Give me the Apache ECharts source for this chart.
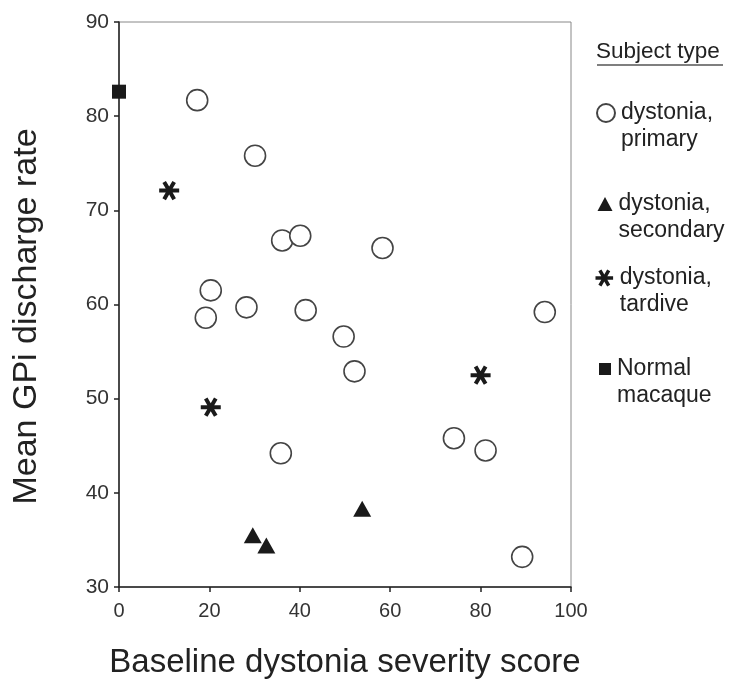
<!DOCTYPE html>
<html>
<head>
<meta charset="utf-8">
<script src="https://cdn.jsdelivr.net/npm/echarts@6/dist/echarts.min.js"></script>
<style>
html,body{margin:0;padding:0;background:#fff;}
#chart{width:733px;height:687px;}
</style>
</head>
<body>
<div id="chart"></div>
<script>
// 数据
var primaryX = [17.3, 30.1, 36.1, 40.1, 20.3, 19.2, 28.2, 41.3, 49.7, 52.1, 35.8, 58.3, 94.2, 74.1, 81.1, 89.2];
var primaryY = [81.7, 75.8, 66.8, 67.3, 61.5, 58.6, 59.7, 59.4, 56.6, 52.9, 44.2, 66.0, 59.2, 45.8, 44.5, 33.2];
var secondaryX = [29.6, 32.6, 53.8];
var secondaryY = [35.5, 34.4, 38.3];
var tardiveX = [11.1, 20.3, 80.0];
var tardiveY = [72.1, 49.1, 52.5];
var normalX = [0];
var normalY = [82.6];
var seriesNames = ['dystonia,\nprimary', 'dystonia,\nsecondary', 'dystonia,\ntardive', 'Normal\nmacaque'];
var xTicks = [0, 20, 40, 60, 80, 100];
var yTicks = [30, 40, 50, 60, 70, 80, 90];

function pairs(xs, ys){
	return xs.map(function(x, i){ return [x, ys[i]]; });
}

// 星号符号 (6 arms)
function starPath(){
	var R = 1, w = 0.2, pts = [];
	for (var k = 0; k < 6; k++) {
		var a = k * Math.PI / 3;
		var ux = Math.cos(a), uy = Math.sin(a), nx = -uy, ny = ux;
		pts.push([R*ux - w*nx, R*uy - w*ny]);
		pts.push([R*ux + w*nx, R*uy + w*ny]);
		var b = a + Math.PI / 6;
		pts.push([2*w*Math.cos(b), 2*w*Math.sin(b)]);
	}
	return 'path://' + pts.map(function(p, i){
		return (i ? 'L' : 'M') + (p[0]*10).toFixed(3) + ' ' + (p[1]*10).toFixed(3);
	}).join(' ') + ' Z';
}
var star = starPath();

var font = 'Liberation Sans, Arial, sans-serif';
var myChart = echarts.init(document.getElementById('chart'));

// 图例: 每项一个, 图标对齐第一行
function legendAt(name, icon, iconW, iconH, iconY){
	return {
		data: [{name: name, icon: icon}],
		left: 605 - iconW / 2, top: iconY - 40.5,
		padding: 0,
		orient: 'vertical',
		itemWidth: iconW, itemHeight: iconH,
		selectedMode: false,
		formatter: function(n){ return ' \n' + n; },
		textStyle: {fontFamily: font, fontSize: 23, color: '#222', lineHeight: 27, padding: [0, 0, 0, 1]}
	};
}

var option = {
	animation: false,
	grid: {left: 119, top: 22, right: 162, bottom: 100, outerBoundsMode: 'none', containLabel: false,
		show: true, borderColor: '#888', borderWidth: 1},
	title: {
		text: 'Subject type',
		left: 596, top: 40, padding: 0,
		textStyle: {fontFamily: font, fontSize: 22.5, fontWeight: 'normal', color: '#222'}
	},
	graphic: [{
		type: 'line', shape: {x1: 597, y1: 65, x2: 723, y2: 65},
		style: {stroke: '#555', lineWidth: 1.3}
	}],
	legend: [
		legendAt(seriesNames[0], 'circle', 18, 18, 113),
		legendAt(seriesNames[1], 'triangle', 15, 14, 204),
		legendAt(seriesNames[2], star, 19, 17, 278),
		legendAt(seriesNames[3], 'rect', 12, 12, 369)
	],
	xAxis: {
		type: 'value', min: 0, max: 100, interval: 20,
		name: 'Baseline dystonia severity score',
		nameLocation: 'middle', nameGap: 59,
		nameTextStyle: {fontFamily: font, fontSize: 33, color: '#222'},
		axisLine: {show: true, lineStyle: {color: '#222', width: 1.5}},
		axisTick: {show: true, length: 5, lineStyle: {color: '#222', width: 1.5}},
		axisLabel: {fontFamily: font, fontSize: 20, color: '#333', margin: 14,
			formatter: function(v){ return xTicks.indexOf(v) > -1 ? String(v) : ''; }},
		splitLine: {show: false}
	},
	yAxis: {
		type: 'value', min: 30, max: 90, interval: 10,
		name: 'Mean GPi discharge rate',
		nameLocation: 'middle', nameGap: 75,
		nameTextStyle: {fontFamily: font, fontSize: 34, color: '#222', padding: [0, 24, 0, 0]},
		axisLine: {show: true, lineStyle: {color: '#222', width: 1.5}},
		axisTick: {show: true, length: 5, lineStyle: {color: '#222', width: 1.5}},
		axisLabel: {fontFamily: font, fontSize: 21, color: '#333', margin: 10,
			formatter: function(v){ return yTicks.indexOf(v) > -1 ? String(v) : ''; }},
		splitLine: {show: false}
	},
	series: [
		{
			name: seriesNames[0], type: 'scatter', clip: false,
			symbol: 'circle', symbolSize: 21,
			itemStyle: {color: '#fff', borderColor: '#444', borderWidth: 1.6, opacity: 1},
			data: pairs(primaryX, primaryY)
		},
		{
			name: seriesNames[1], type: 'scatter', clip: false,
			symbol: 'triangle', symbolSize: [18, 16],
			itemStyle: {color: '#1a1a1a', opacity: 1},
			data: pairs(secondaryX, secondaryY)
		},
		{
			name: seriesNames[2], type: 'scatter', clip: false,
			symbol: star, symbolSize: 20, symbolKeepAspect: true,
			itemStyle: {color: '#1a1a1a', opacity: 1},
			data: pairs(tardiveX, tardiveY)
		},
		{
			name: seriesNames[3], type: 'scatter', clip: false,
			symbol: 'rect', symbolSize: 14,
			itemStyle: {color: '#1a1a1a', opacity: 1},
			data: pairs(normalX, normalY)
		}
	]
};
myChart.setOption(option);
</script>
</body>
</html>
